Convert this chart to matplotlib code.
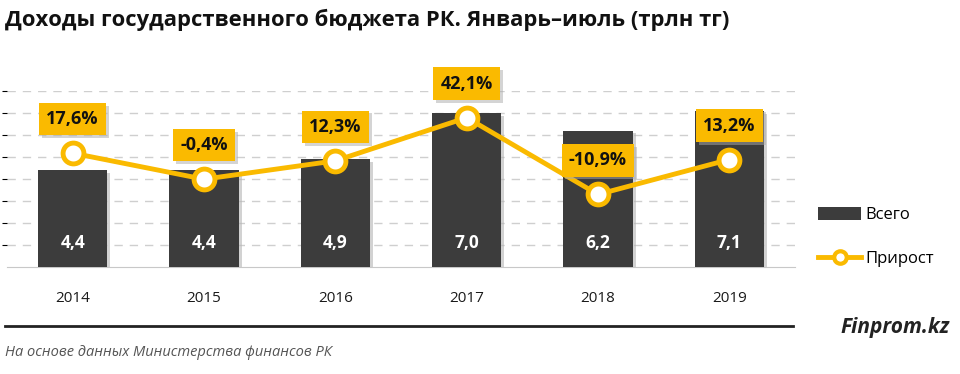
import matplotlib.pyplot as plt
import matplotlib.patheffects as pe
from matplotlib.patches import Patch
from matplotlib.lines import Line2D

# Data
years = ['2014', '2015', '2016', '2017', '2018', '2019']
total = [4.4, 4.4, 4.9, 7.0, 6.2, 7.1]
growth = [17.6, -0.4, 12.3, 42.1, -10.9, 13.2]

bar_color = '#3c3c3c'
gold = '#FABA00'
plt.rcParams['font.family'] = ['Open Sans', 'DejaVu Sans']

W, H = 960, 374
fig = plt.figure(figsize=(W / 100, H / 100), dpi=100)
ax = fig.add_axes([7 / W, (H - 267) / H, (795 - 7) / W, (267 - 91) / H])

x = list(range(len(years)))
shadow = [pe.SimplePatchShadow(offset=(2, -2), shadow_rgbFace='#b5b5b5', alpha=0.6), pe.Normal()]
bars = ax.bar(x, total, width=0.53, color=bar_color, zorder=3)
for b in bars:
    b.set_path_effects(shadow)

for i, v in enumerate(total):
    ax.text(i, 1.1, f'{v:.1f}'.replace('.', ','), ha='center', va='center',
            color='white', fontsize=12.5, fontweight='bold', zorder=4)

ax.set_xlim(-0.5, 5.5)
ax.set_ylim(0, 8)
ax.set_yticks(range(1, 9))
ax.yaxis.grid(True, linestyle=(0, (6, 5)), color='#cfcfcf', linewidth=1)
ax.set_axisbelow(True)
ax.tick_params(axis='y', left=False, labelleft=False)
ax.tick_params(axis='x', bottom=False, pad=14, labelsize=11, labelcolor='#1a1a1a')
ax.set_xticks(x)
ax.set_xticklabels(years)
for s in ['left', 'right', 'top']:
    ax.spines[s].set_visible(False)
ax.spines['bottom'].set_color('#c8c8c8')

ax2 = ax.twinx()
ax2.set_ylim(-61, 60.5)
ax2.axis('off')
ax2.plot(x, growth, color=gold, linewidth=3.5, marker='o', markersize=15,
         markerfacecolor='white', markeredgecolor=gold, markeredgewidth=3.5, zorder=5)

box_shadow = [pe.SimplePatchShadow(offset=(2, -2), shadow_rgbFace='#aaaaaa', alpha=0.5), pe.Normal()]
for i, v in enumerate(growth):
    t = ax2.annotate(f'{v:.1f}%'.replace('.', ','), (i, v), xytext=(0, 34),
                     textcoords='offset pixels', ha='center', va='center',
                     fontsize=13, fontweight='bold', color='#111111', zorder=6,
                     annotation_clip=False,
                     bbox=dict(boxstyle='square,pad=0.4', fc=gold, ec='none'))
    t.get_bbox_patch().set_path_effects(box_shadow)

# Legend
handles = [Patch(facecolor=bar_color, edgecolor='none'),
           Line2D([0], [0], color=gold, linewidth=3.5, marker='o', markersize=9,
                  markerfacecolor='white', markeredgecolor=gold, markeredgewidth=3)]
fig.legend(handles, ['Всего', 'Прирост'], loc='center left',
           bbox_to_anchor=(803 / W, 1 - 237 / H), frameon=False, fontsize=12,
           handlelength=2.6, handleheight=0.8, labelspacing=1.65, handletextpad=0.25)

# Title and footer
fig.text(5 / W, 1 - 20 / H, 'Доходы государственного бюджета РК. Январь–июль (трлн тг)',
         fontsize=15.8, fontweight='bold', color='#111111', va='center', ha='left')
fig.add_artist(Line2D([5 / W, 793 / W], [1 - 326 / H, 1 - 326 / H], color='#222222', linewidth=2))
fig.text(950 / W, 1 - 327 / H, 'Finprom.kz', fontsize=15, fontweight='bold', style='italic',
         color='#222222', ha='right', va='center')
fig.text(5 / W, 1 - 353 / H, 'На основе данных Министерства финансов РК', fontsize=10.5,
         style='italic', color='#555555', ha='left', va='center')

fig.savefig('out.png', dpi=100)
